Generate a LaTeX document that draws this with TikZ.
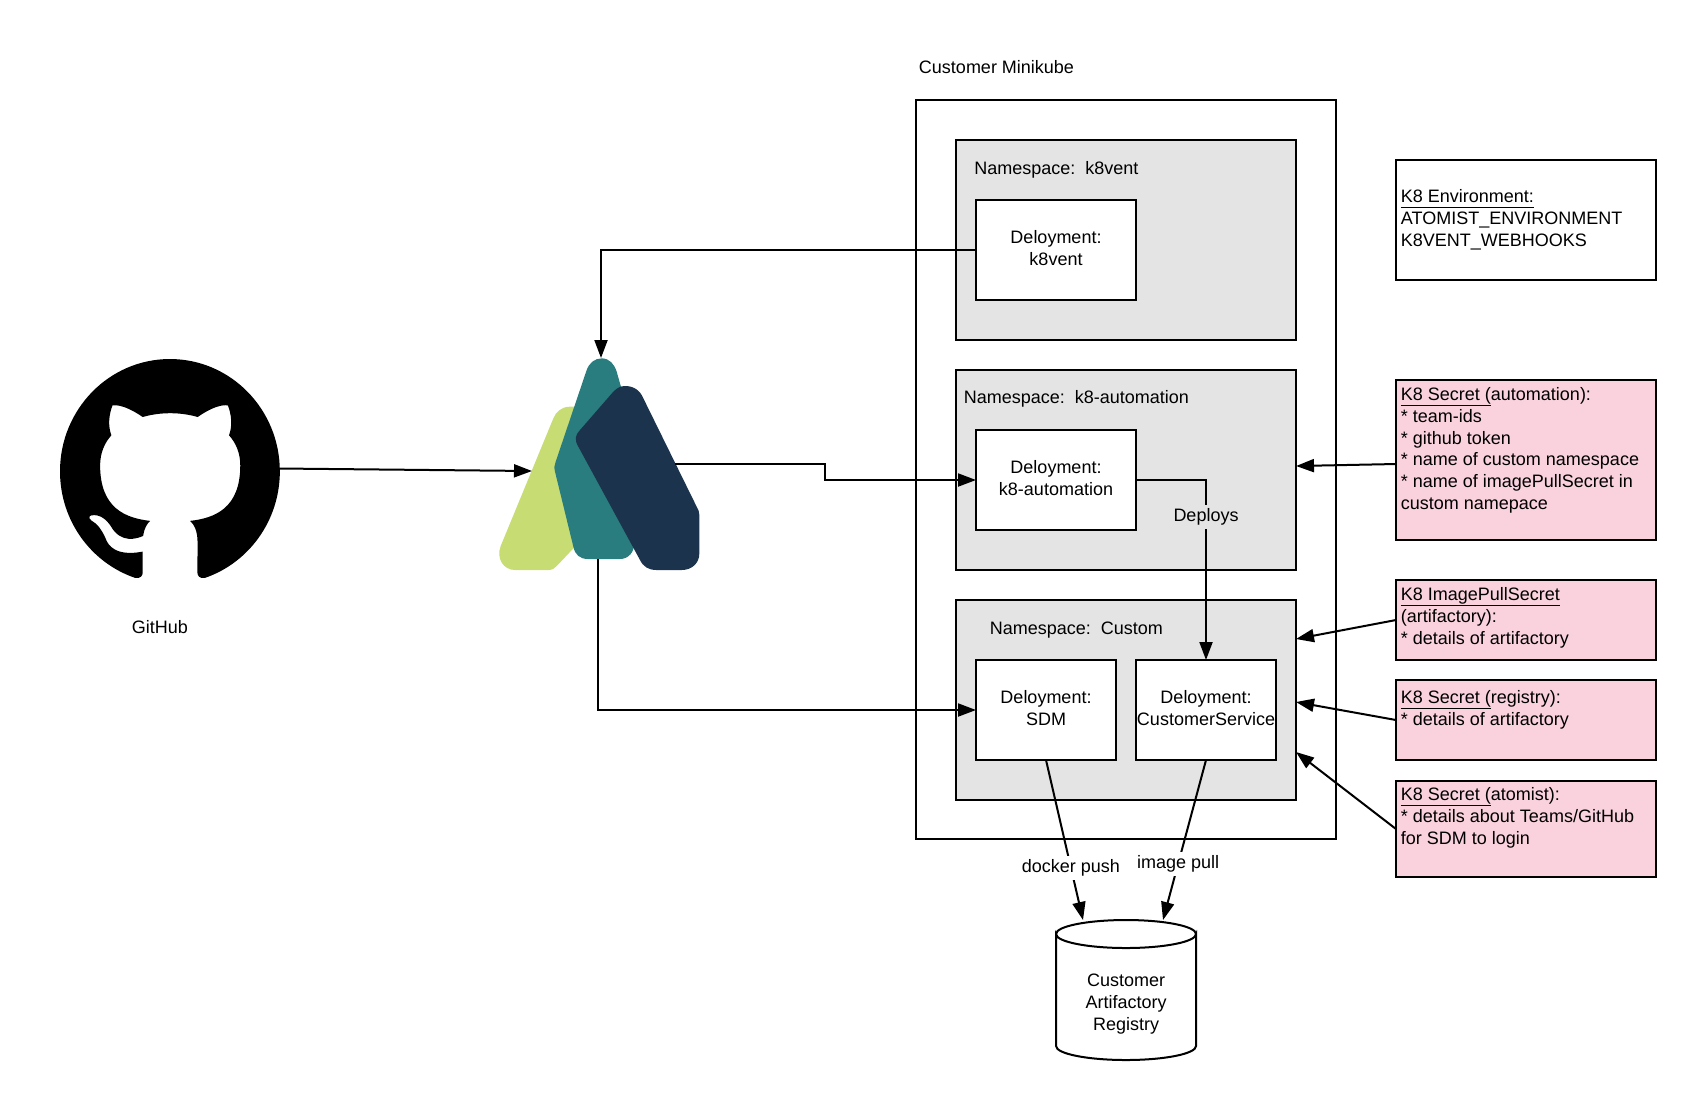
\documentclass[tikz,border=0pt]{standalone}
\usepackage{fontspec}
\setmainfont{Liberation Sans}
\usetikzlibrary{arrows.meta,calc,svg.path}
\definecolor{nsgrey}{HTML}{E4E4E4}
\definecolor{secpink}{HTML}{F9D2DE}
\definecolor{lime}{HTML}{C8DC74}
\definecolor{teal2}{HTML}{2A7D7E}
\definecolor{navy}{HTML}{1B334C}
\newcommand{\txt}{\fontsize{9}{10.85}\selectfont}
\newcommand{\ulin}[1]{\underline{\smash{#1}\rule[-0.9pt]{0pt}{7.9pt}}}
\tikzset{
  box/.style={draw=black,line width=1pt,inner sep=0pt,outer sep=0pt,anchor=north west},
  outerbox/.style={box,fill=white},
  nsbox/.style={box,fill=nsgrey},
  depbox/.style={box,fill=white},
  envbox/.style={box,fill=white},
  secbox/.style={box,fill=secpink},
  lbl/.style={inner sep=0pt,font=\txt},
  deptext/.style={inner sep=0pt,align=center,font=\txt},
  boxtext/.style={inner sep=0pt,anchor=north west,align=left,font=\txt},
  conn/.style={line width=1pt,-{Triangle[length=9pt,width=6.5pt]}},
}
\begin{document}
\begin{tikzpicture}[x=0.5pt,y=-0.5pt]
\useasboundingbox (0,0) rectangle (1696,1100);
% containers
\node[outerbox,minimum width=210pt,minimum height=369.5pt] (mk) at (916,100) {};
\node[nsbox,minimum width=170pt,minimum height=100pt] (nsk) at (956,140) {};
\node[nsbox,minimum width=170pt,minimum height=100pt] (nsa) at (956,370) {};
\node[nsbox,minimum width=170pt,minimum height=100pt] (nsc) at (956,600) {};
\node[lbl] (tmk) at (996.5,67.3) {Customer Minikube};
\node[lbl,anchor=west] (tnsk) at (974,170) {Namespace:\ \ k8vent};
\node[lbl,anchor=west] (tnsa) at (963.5,399) {Namespace:\ \ k8-automation};
\node[lbl,anchor=west] (tnsc) at (989.5,630) {Namespace:\ \ Custom};
% deployments
\node[depbox,minimum width=80pt,minimum height=50pt] (dk) at (976,200) {};
\node[deptext] (tdk) at ([yshift=1.1pt]dk.center) {Deloyment:\\k8vent};
\node[depbox,minimum width=80pt,minimum height=50pt] (da) at (976,430) {};
\node[deptext] (tda) at ([yshift=1.1pt]da.center) {Deloyment:\\k8-automation};
\node[depbox,minimum width=70pt,minimum height=50pt] (ds) at (976,660) {};
\node[deptext] (tds) at ([yshift=1.1pt]ds.center) {Deloyment:\\SDM};
\node[depbox,minimum width=70pt,minimum height=50pt] (dc) at (1136,660) {};
\node[deptext] (tdc) at ([yshift=1.1pt]dc.center) {Deloyment:\\CustomerService};
% right column
\node[envbox,minimum width=130pt,minimum height=60pt] (env) at (1396,160) {};
\node[boxtext] (tenv) at (1400.5,188.3) {\ulin{K8 Environment:}\\ATOMIST\_ENVIRONMENT\\K8VENT\_WEBHOOKS};
\node[secbox,minimum width=130pt,minimum height=80pt] (sa) at (1396,380) {};
\node[boxtext] (tsa) at (1400.5,386.2) {\ulin{K8 Secret (}automation):\\* team-ids\\* github token\\* name of custom namespace\\* name of imagePullSecret in\\custom namepace};
\node[secbox,minimum width=130pt,minimum height=40pt] (si) at (1396,580) {};
\node[boxtext] (tsi) at (1400.5,586.3) {\ulin{K8 ImagePullSecret}\\(artifactory):\\* details of artifactory};
\node[secbox,minimum width=130pt,minimum height=40pt] (sr) at (1396,680) {};
\node[boxtext] (tsr) at (1400.5,689) {\ulin{K8 Secret (}registry):\\* details of artifactory};
\node[secbox,minimum width=130pt,minimum height=48pt] (st) at (1396,781) {};
\node[boxtext] (tst) at (1400.5,786.4) {\ulin{K8 Secret (}atomist):\\* details about Teams/GitHub\\for SDM to login};
% GitHub logo
\begin{scope}[shift={(60,359)},xscale=6.87,yscale=-7.02]
\fill[black] svg {M 8 0 C 3.58 0 0 3.58 0 8 c 0 3.54 2.29 6.53 5.47 7.59 0.4 0.07 0.55 -0.17 0.55 -0.38 0 -0.19 -0.01 -0.82 -0.01 -1.49 -2.01 0.37 -2.53 -0.49 -2.69 -0.94 -0.09 -0.23 -0.48 -0.94 -0.82 -1.13 -0.28 -0.15 -0.68 -0.52 -0.01 -0.53 0.63 -0.01 1.08 0.58 1.23 0.82 0.72 1.21 1.87 0.87 2.33 0.66 0.07 -0.52 0.28 -0.87 0.51 -1.07 -1.78 -0.2 -3.64 -0.89 -3.64 -3.95 0 -0.87 0.31 -1.59 0.82 -2.15 -0.08 -0.2 -0.36 -1.02 0.08 -2.12 0 0 0.67 -0.21 2.2 0.82 0.64 -0.18 1.32 -0.27 2 -0.27 0.68 0 1.36 0.09 2 0.27 1.53 -1.04 2.2 -0.82 2.2 -0.82 0.44 1.1 0.16 1.92 0.08 2.12 0.51 0.56 0.82 1.27 0.82 2.15 0 3.07 -1.87 3.75 -3.65 3.95 0.29 0.25 0.54 0.73 0.54 1.48 0 1.07 -0.01 1.93 -0.01 2.2 0 0.21 0.15 0.46 0.55 0.38 C 13.71 14.53 16 11.54 16 8 c 0 -4.42 -3.58 -8 -8 -8 z};
\end{scope}
\node[lbl] (tgh) at (160,627) {GitHub};
\coordinate (gh) at (280,468.5);
% Atomist logo
\begin{scope}[shift={(480,340)},x=0.16667pt,y=-0.16667pt]
\fill[lime] (105,690) -- (205,690) .. controls (218,690) and (225,684) .. (232,676) -- (300,604) -- (300,200) -- (270,200)
  .. controls (245,200) and (228,215) .. (220,235) -- (62,618)
  .. controls (48,655) and (70,690) .. (105,690) -- cycle;
\fill[teal2] (365,55) .. controls (388,55) and (403,72) .. (410,95) -- (430,165) -- (461,610)
  .. controls (465,635) and (445,657) .. (420,657) -- (325,657)
  .. controls (300,657) and (285,645) .. (280,620) -- (225,395)
  .. controls (222,383) and (223,375) .. (227,365) -- (320,90)
  .. controls (328,68) and (345,55) .. (365,55) -- cycle;
\fill[navy] (435,138) .. controls (460,138) and (480,150) .. (490,175) -- (650,500)
  .. controls (655,508) and (658,515) .. (658,525) -- (658,640)
  .. controls (658,670) and (635,690) .. (605,690) -- (530,690)
  .. controls (505,690) and (490,680) .. (480,660) -- (295,320)
  .. controls (283,300) and (285,285) .. (300,270) -- (400,155)
  .. controls (412,143) and (422,138) .. (435,138) -- cycle;
\end{scope}
\coordinate (atop) at (601,358);
\coordinate (aleft) at (532,471);
\coordinate (aright) at (675,464);
\coordinate (abot) at (598,559);
% cylinder
\draw[line width=1pt,fill=white] (1056,934) arc[start angle=180,end angle=0,x radius=70,y radius=14]
  -- (1196,1046) arc[start angle=0,end angle=180,x radius=70,y radius=14] -- cycle;
\draw[line width=1pt] (1056,934) arc[start angle=180,end angle=360,x radius=70,y radius=14];
\node[inner sep=0pt,outer sep=0pt,minimum width=70pt,minimum height=70pt,anchor=north west] (cyl) at (1056,920) {};
\node[deptext] (tcyl) at ([yshift=-7pt]cyl.center) {Customer\\Artifactory\\Registry};
% connectors
\draw[conn] (dk.west) -| (atop);
\draw[conn] (gh) -- (aleft);
\draw[conn] (aright) -- (825,464) -- (825,480) -- (da.west);
\draw[conn] (abot) |- (ds.west);
\draw[conn] (da.east) -| node[pos=0.603,fill=nsgrey,inner sep=2pt,font=\txt] (tdep) {Deploys} (dc.north);
\draw[conn] ([yshift=-2pt]sa.west) -- ([yshift=2pt]nsa.east);
\draw[conn] (si.west) -- ([yshift=30.5pt]nsc.east);
\draw[conn] (sr.west) -- ([yshift=-1pt]nsc.east);
\draw[conn] (st.west) -- ([yshift=-26pt]nsc.east);
\draw[conn] (ds.south) -- node[pos=0.675,fill=white,inner sep=2pt,font=\txt] (tpush) {docker push} ([xshift=-21.5pt]cyl.north);
\draw[conn] (dc.south) -- node[pos=0.65,fill=white,inner sep=2pt,font=\txt] (tpull) {image pull} ([xshift=18.5pt]cyl.north);
\end{tikzpicture}
\end{document}
